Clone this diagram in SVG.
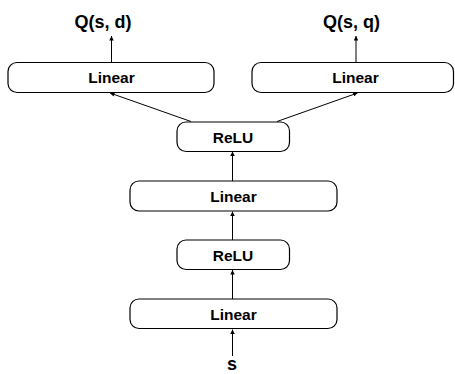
<svg xmlns="http://www.w3.org/2000/svg" width="455" height="374" viewBox="0 0 455 374">
<style>
.box{fill:#fff;stroke:#000;stroke-width:1.2}
.lbl{font-family:"Liberation Sans",Arial,Helvetica,sans-serif;font-weight:bold;font-size:15.5px;text-anchor:middle;fill:#000}
.io{font-family:"Liberation Sans",Arial,Helvetica,sans-serif;font-weight:bold;font-size:18px;text-anchor:middle;fill:#000}
.edge{stroke:#000;stroke-width:1;fill:none;marker-end:url(#ah)}
</style>
<defs>
<marker id="ah" viewBox="0 0 10 10" refX="10" refY="5" markerWidth="4.5" markerHeight="4.5" markerUnits="userSpaceOnUse" orient="auto">
<path d="M0,0 L10,5 L0,10 Z" fill="#000"/>
</marker>
</defs>
<rect width="455" height="374" fill="#fff"/>
<g id="connectors">
<line class="edge" x1="232.5" y1="356" x2="232.5" y2="329.5"/>
<line class="edge" x1="232.5" y1="299" x2="232.5" y2="270"/>
<line class="edge" x1="232.5" y1="240" x2="232.5" y2="211.5"/>
<line class="edge" x1="232.5" y1="181" x2="232.5" y2="151.5"/>
<line class="edge" x1="191" y1="121.5" x2="110" y2="93"/>
<line class="edge" x1="277" y1="121.5" x2="357.5" y2="93"/>
<line class="edge" x1="111.5" y1="62" x2="111.5" y2="36"/>
<line class="edge" x1="356" y1="62" x2="356" y2="36"/>
</g>
<g id="out_d"><text class="io" x="103" y="28">Q(s, d)</text></g>
<g id="out_q"><text class="io" x="351.5" y="28">Q(s, q)</text></g>
<g id="linear_d"><rect class="box" x="8" y="62.5" width="206" height="30" rx="9"/><text class="lbl" x="111.5" y="83">Linear</text></g>
<g id="linear_q"><rect class="box" x="252" y="62.5" width="201.5" height="30" rx="9"/><text class="lbl" x="355.5" y="83">Linear</text></g>
<g id="relu2"><rect class="box" x="177" y="122" width="112.5" height="29.5" rx="9"/><text class="lbl" x="233" y="142.5">ReLU</text></g>
<g id="linear2"><rect class="box" x="130" y="181" width="207" height="30" rx="9"/><text class="lbl" x="233.5" y="202">Linear</text></g>
<g id="relu1"><rect class="box" x="177" y="240" width="112.5" height="29.5" rx="9"/><text class="lbl" x="233" y="260.5">ReLU</text></g>
<g id="linear1"><rect class="box" x="130" y="299" width="207" height="29.5" rx="9"/><text class="lbl" x="233.5" y="319.5">Linear</text></g>
<g id="input"><text class="io" x="232" y="370">s</text></g>
</svg>
